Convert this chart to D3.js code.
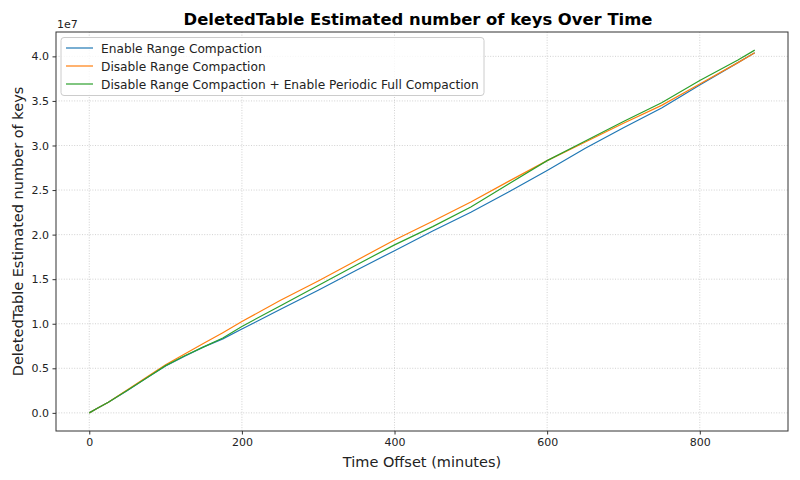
<!DOCTYPE html>
<html><head><meta charset="utf-8">
<script src="https://cdn.jsdelivr.net/npm/d3@7"></script>
<style>body{margin:0;background:#fff}svg{display:block;font-family:"DejaVu Sans",sans-serif}</style>
</head><body><svg id="c" width="800" height="480"></svg>
<script>
const minutes = [0,10,25,50,75,100,125,150,175,200,250,300,350,400,450,500,550,600,650,700,750,800,850,872];
const enableRange = [0,0.05,0.12,0.25,0.39,0.525,0.635,0.74,0.83,0.94,1.16,1.375,1.60,1.82,2.04,2.25,2.48,2.72,2.97,3.20,3.42,3.68,3.93,4.04];
const disableRange = [0,0.05,0.12,0.26,0.40,0.54,0.66,0.78,0.90,1.025,1.26,1.48,1.71,1.94,2.15,2.365,2.60,2.83,3.04,3.25,3.45,3.69,3.93,4.04];
const disablePeriodic = [0,0.05,0.12,0.255,0.39,0.53,0.64,0.74,0.84,0.97,1.20,1.43,1.66,1.885,2.09,2.31,2.57,2.83,3.05,3.27,3.48,3.73,3.96,4.07];
const seriesNames = ["Enable Range Compaction","Disable Range Compaction","Disable Range Compaction + Enable Periodic Full Compaction"];
const seriesColors = ["#1f77b4","#ff7f0e","#2ca02c"];
const xTicks = [0,200,400,600,800];
const yTicks = [0,0.5,1.0,1.5,2.0,2.5,3.0,3.5,4.0];
const SCALE = 1e7;

const svg = d3.select("#c");
const L=56,R=788,T=32,B=431;
const allY = [...enableRange,...disableRange,...disablePeriodic].map(v=>v*SCALE);
const xMin=d3.min(minutes), xMax=d3.max(minutes);
const yMin=d3.min(allY), yMax=d3.max(allY);
const xm=(xMax-xMin)*0.05, ym=(yMax-yMin)*0.05;
const x=d3.scaleLinear().domain([xMin-xm,xMax+xm]).range([L,R]);
const y=d3.scaleLinear().domain([yMin-ym,yMax+ym]).range([B,T]);

// grid
const g=svg.append("g");
g.selectAll(".gx").data(xTicks).join("line").attr("x1",d=>x(d)).attr("x2",d=>x(d)).attr("y1",T).attr("y2",B)
 .attr("stroke","#b0b0b0").attr("stroke-width",0.8).attr("stroke-dasharray","1,1.6").attr("opacity",0.7);
g.selectAll(".gy").data(yTicks).join("line").attr("y1",d=>y(d*SCALE)).attr("y2",d=>y(d*SCALE)).attr("x1",L).attr("x2",R)
 .attr("stroke","#b0b0b0").attr("stroke-width",0.8).attr("stroke-dasharray","1,1.6").attr("opacity",0.7);

// lines
const data=[enableRange,disableRange,disablePeriodic];
const line=d3.line().x((d,i)=>x(minutes[i])).y(d=>y(d*SCALE));
data.forEach((s,k)=>{
  svg.append("path").datum(s).attr("d",line).attr("fill","none").attr("stroke",seriesColors[k]).attr("stroke-width",1.2);
});

// axes
const xa=svg.append("g").attr("transform",`translate(0,${B})`).call(d3.axisBottom(x).tickValues(xTicks).tickFormat(d3.format("d")).tickSize(3.5).tickPadding(3.5));
const ya=svg.append("g").attr("transform",`translate(${L},0)`).call(d3.axisLeft(y).tickValues(yTicks.map(v=>v*SCALE)).tickFormat(d=>(d/SCALE).toFixed(1)).tickSize(3.5).tickPadding(3.5));
[xa,ya].forEach(a=>{a.select(".domain").remove();a.selectAll("text").attr("font-size",11).attr("fill","#222").attr("font-family","DejaVu Sans");a.selectAll("line").attr("stroke","#333");});
svg.append("rect").attr("x",L).attr("y",T).attr("width",R-L).attr("height",B-T).attr("fill","none").attr("stroke","#333").attr("stroke-width",1);

svg.append("text").attr("x",L+1).attr("y",T-4).attr("font-size",11).attr("fill","#222").text("1e7");

// title & labels
svg.append("text").attr("x",(L+R)/2-4).attr("y",25).attr("text-anchor","middle").attr("font-size",16.4).attr("font-weight","bold").text("DeletedTable Estimated number of keys Over Time");
svg.append("text").attr("x",(L+R)/2).attr("y",467).attr("text-anchor","middle").attr("font-size",14.5).attr("fill","#222").text("Time Offset (minutes)");
svg.append("text").attr("transform",`translate(23,${(T+B)/2}) rotate(-90)`).attr("text-anchor","middle").attr("font-size",14.5).attr("fill","#222").text("DeletedTable Estimated number of keys");

// legend
const lg=svg.append("g");
lg.append("rect").attr("x",61).attr("y",37.5).attr("width",423).attr("height",58).attr("rx",3).attr("fill","#fff").attr("fill-opacity",0.8).attr("stroke","#ccc");
seriesNames.forEach((n,k)=>{
  const yy=48+k*18;
  lg.append("line").attr("x1",66).attr("x2",93).attr("y1",yy).attr("y2",yy).attr("stroke",seriesColors[k]).attr("stroke-width",1.2);
  lg.append("text").attr("x",101).attr("y",yy+4.5).attr("font-size",12.2).attr("fill","#222").text(n);
});
</script></body></html>
